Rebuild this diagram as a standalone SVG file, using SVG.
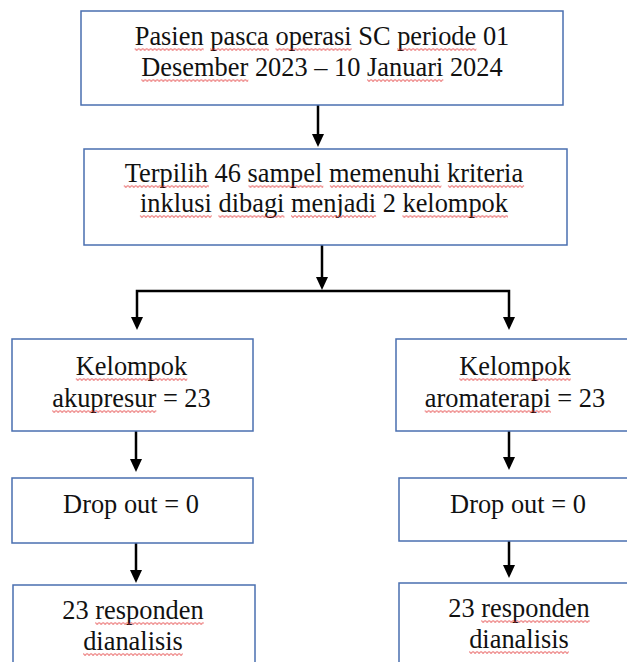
<svg xmlns="http://www.w3.org/2000/svg" width="627" height="662" viewBox="0 0 627 662">
<defs>
<style>
.box{fill:#fff;stroke:#4a6fb0;stroke-width:1.5}
.t{font-family:"Liberation Serif","Times New Roman",serif;font-size:26.4px;fill:#111;text-anchor:middle}
.ln{fill:none;stroke:#000;stroke-width:2.5}
.sq{fill:url(#sq)}
</style>
<pattern id="sq" patternUnits="userSpaceOnUse" x="0" y="0" width="4" height="4">
<path d="M0,0.8 L2,3 L4,0.8" fill="none" stroke="#e02828" stroke-width="0.9"/>
</pattern>
</defs>
<rect width="627" height="662" fill="#fff"/>
<g id="connectors">
<line class="ln" x1="318" y1="105" x2="318" y2="135"/>
<path d="M312,134 L324,134 L318,147 Z"/>
<line class="ln" x1="322" y1="245" x2="322" y2="278"/>
<path d="M316,277 L328,277 L322,290 Z"/>
<polyline class="ln" points="137,318 137,291 509,291 509,318"/>
<path d="M131,317 L143,317 L137,330 Z"/>
<path d="M503,317 L515,317 L509,330 Z"/>
<line class="ln" x1="136" y1="431" x2="136" y2="460"/>
<path d="M130,459 L142,459 L136,472 Z"/>
<line class="ln" x1="509" y1="431" x2="509" y2="458"/>
<path d="M503,457 L515,457 L509,470 Z"/>
<line class="ln" x1="136" y1="543" x2="136" y2="571"/>
<path d="M130,570 L142,570 L136,583 Z"/>
<line class="ln" x1="509" y1="541" x2="509" y2="566"/>
<path d="M503,565 L515,565 L509,578 Z"/>
</g>
<g id="n1">
<rect class="box" x="81" y="11" width="482" height="94"/>
<text class="t" x="322" y="45"><tspan>Pasien</tspan> <tspan>pasca</tspan> <tspan>operasi</tspan> SC <tspan>periode</tspan> 01</text>
<text class="t" x="322" y="76"><tspan>Desember</tspan> 2023 – 10 <tspan>Januari</tspan> 2024</text>
<rect class="sq" transform="translate(134.7,47.5)" width="69" height="4"/>
<rect class="sq" transform="translate(210.2,47.5)" width="58.6" height="4"/>
<rect class="sq" transform="translate(275.5,47.5)" width="76.2" height="4"/>
<rect class="sq" transform="translate(397.2,47.5)" width="79.2" height="4"/>
<rect class="sq" transform="translate(141.3,78.5)" width="107" height="4"/>
<rect class="sq" transform="translate(367.1,78.5)" width="76.2" height="4"/>
</g>
<g id="n2">
<rect class="box" x="84" y="149" width="483" height="96"/>
<text class="t" x="324" y="182"><tspan>Terpilih</tspan> 46 <tspan>sampel</tspan> <tspan>memenuhi</tspan> <tspan>kriteria</tspan></text>
<text class="t" x="324" y="212"><tspan>inklusi</tspan> <tspan>dibagi</tspan> <tspan>menjadi</tspan> 2 <tspan>kelompok</tspan></text>
<rect class="sq" transform="translate(123.8,184.5)" width="85.1" height="4"/>
<rect class="sq" transform="translate(248.5,184.5)" width="74.8" height="4"/>
<rect class="sq" transform="translate(329.9,184.5)" width="111.5" height="4"/>
<rect class="sq" transform="translate(447.9,184.5)" width="76.2" height="4"/>
<rect class="sq" transform="translate(139.9,214.5)" width="71.9" height="4"/>
<rect class="sq" transform="translate(218.4,214.5)" width="66" height="4"/>
<rect class="sq" transform="translate(291,214.5)" width="85.1" height="4"/>
<rect class="sq" transform="translate(402.4,214.5)" width="105.6" height="4"/>
</g>
<g id="n3">
<rect class="box" x="12" y="339" width="241" height="92"/>
<text class="t" x="131.5" y="375"><tspan>Kelompok</tspan></text>
<text class="t" x="131.5" y="407"><tspan>akupresur</tspan> = 23</text>
<rect class="sq" transform="translate(75.8,377.5)" width="111.5" height="4"/>
<rect class="sq" transform="translate(52.2,409.5)" width="104.1" height="4"/>
</g>
<g id="n4">
<rect class="box" x="396" y="339" width="245" height="92"/>
<text class="t" x="515" y="375"><tspan>Kelompok</tspan></text>
<text class="t" x="515" y="407"><tspan>aromaterapi</tspan> = 23</text>
<rect class="sq" transform="translate(459.3,377.5)" width="111.5" height="4"/>
<rect class="sq" transform="translate(424.7,409.5)" width="126.1" height="4"/>
</g>
<g id="n5">
<rect class="box" x="12" y="478" width="241" height="65"/>
<text class="t" x="131" y="513">Drop out = 0</text>
</g>
<g id="n6">
<rect class="box" x="399" y="478" width="242" height="63"/>
<text class="t" x="518" y="513">Drop out = 0</text>
</g>
<g id="n7">
<rect class="box" x="13" y="585" width="242" height="90"/>
<text class="t" x="133" y="619">23 <tspan>responden</tspan></text>
<text class="t" x="133" y="650"><tspan>dianalisis</tspan></text>
<rect class="sq" transform="translate(95.2,621.5)" width="108.5" height="4"/>
<rect class="sq" transform="translate(83.1,652.5)" width="99.7" height="4"/>
</g>
<g id="n8">
<rect class="box" x="399" y="583" width="242" height="92"/>
<text class="t" x="519" y="617">23 <tspan>responden</tspan></text>
<text class="t" x="519" y="648"><tspan>dianalisis</tspan></text>
<rect class="sq" transform="translate(481.2,619.5)" width="108.5" height="4"/>
<rect class="sq" transform="translate(469.1,650.5)" width="99.7" height="4"/>
</g>
</svg>
